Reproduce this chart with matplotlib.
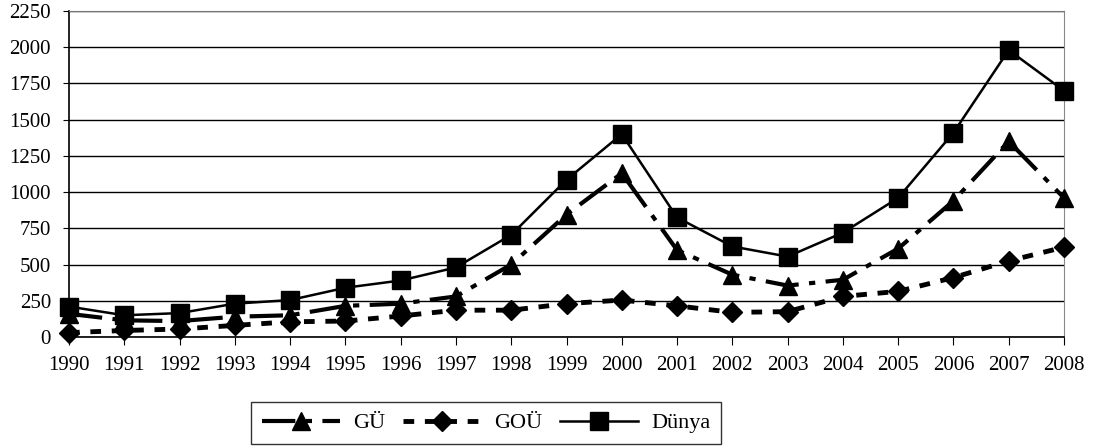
import matplotlib
matplotlib.use("Agg")
import matplotlib.pyplot as plt

# ============================================================
# DONNÉES
# ============================================================

years = list(range(1990, 2009))
gu = [160, 115, 110, 140, 150, 215, 230, 280, 500, 845, 1130, 600, 430, 355, 395, 610, 940, 1350, 960]
gou = [30, 45, 55, 80, 105, 110, 145, 185, 185, 230, 255, 215, 170, 175, 280, 315, 410, 525, 620]
dunya = [210, 150, 165, 230, 255, 340, 390, 480, 705, 1085, 1400, 825, 625, 555, 720, 960, 1410, 1980, 1700]

y_ticks = list(range(0, 2251, 250))

plt.rcParams["font.family"] = ["Liberation Serif", "DejaVu Serif"]

fig = plt.figure(figsize=(11.03, 4.48), dpi=100)
ax = fig.add_axes([69 / 1103, 1 - 337 / 448, (1064 - 69) / 1103, (337 - 11) / 448])

ax.plot(years, gu, color="black", linewidth=3, dashes=(8, 2.5, 1.5, 2.5),
        marker="^", markersize=13, label="GÜ", clip_on=False, zorder=3)
ax.plot(years, gou, color="black", linewidth=3.5, dashes=(2.2, 2.2),
        marker="D", markersize=10, label="GOÜ", clip_on=False, zorder=3)
ax.plot(years, dunya, color="black", linewidth=1.8, linestyle="-",
        marker="s", markersize=12.5, label="Dünya", clip_on=False, zorder=4)

ax.set_xlim(1990, 2008)
ax.set_ylim(0, 2250)
ax.set_yticks(y_ticks)
ax.set_xticks(years)
ax.set_xticklabels([str(y) for y in years])
ax.yaxis.grid(True, color="black", linewidth=1)
ax.set_axisbelow(True)

ax.tick_params(axis="both", labelsize=15, direction="out", color="black")
ax.tick_params(axis="x", length=5.5, pad=8)
ax.tick_params(axis="y", length=4, pad=9)

ax.spines["top"].set_color("#777777")
ax.spines["right"].set_color("#888888")
ax.spines["left"].set_linewidth(1.2)
ax.spines["bottom"].set_linewidth(1.2)

leg = fig.legend(loc="center", bbox_to_anchor=(486 / 1103, 1 - 423 / 448), ncol=3,
                 frameon=True, fancybox=False, edgecolor="black", fontsize=16,
                 handlelength=3.5, columnspacing=0.8, handletextpad=0.6,
                 borderpad=0.5)
leg.get_frame().set_linewidth(1)

fig.savefig("out.png", dpi=100)
